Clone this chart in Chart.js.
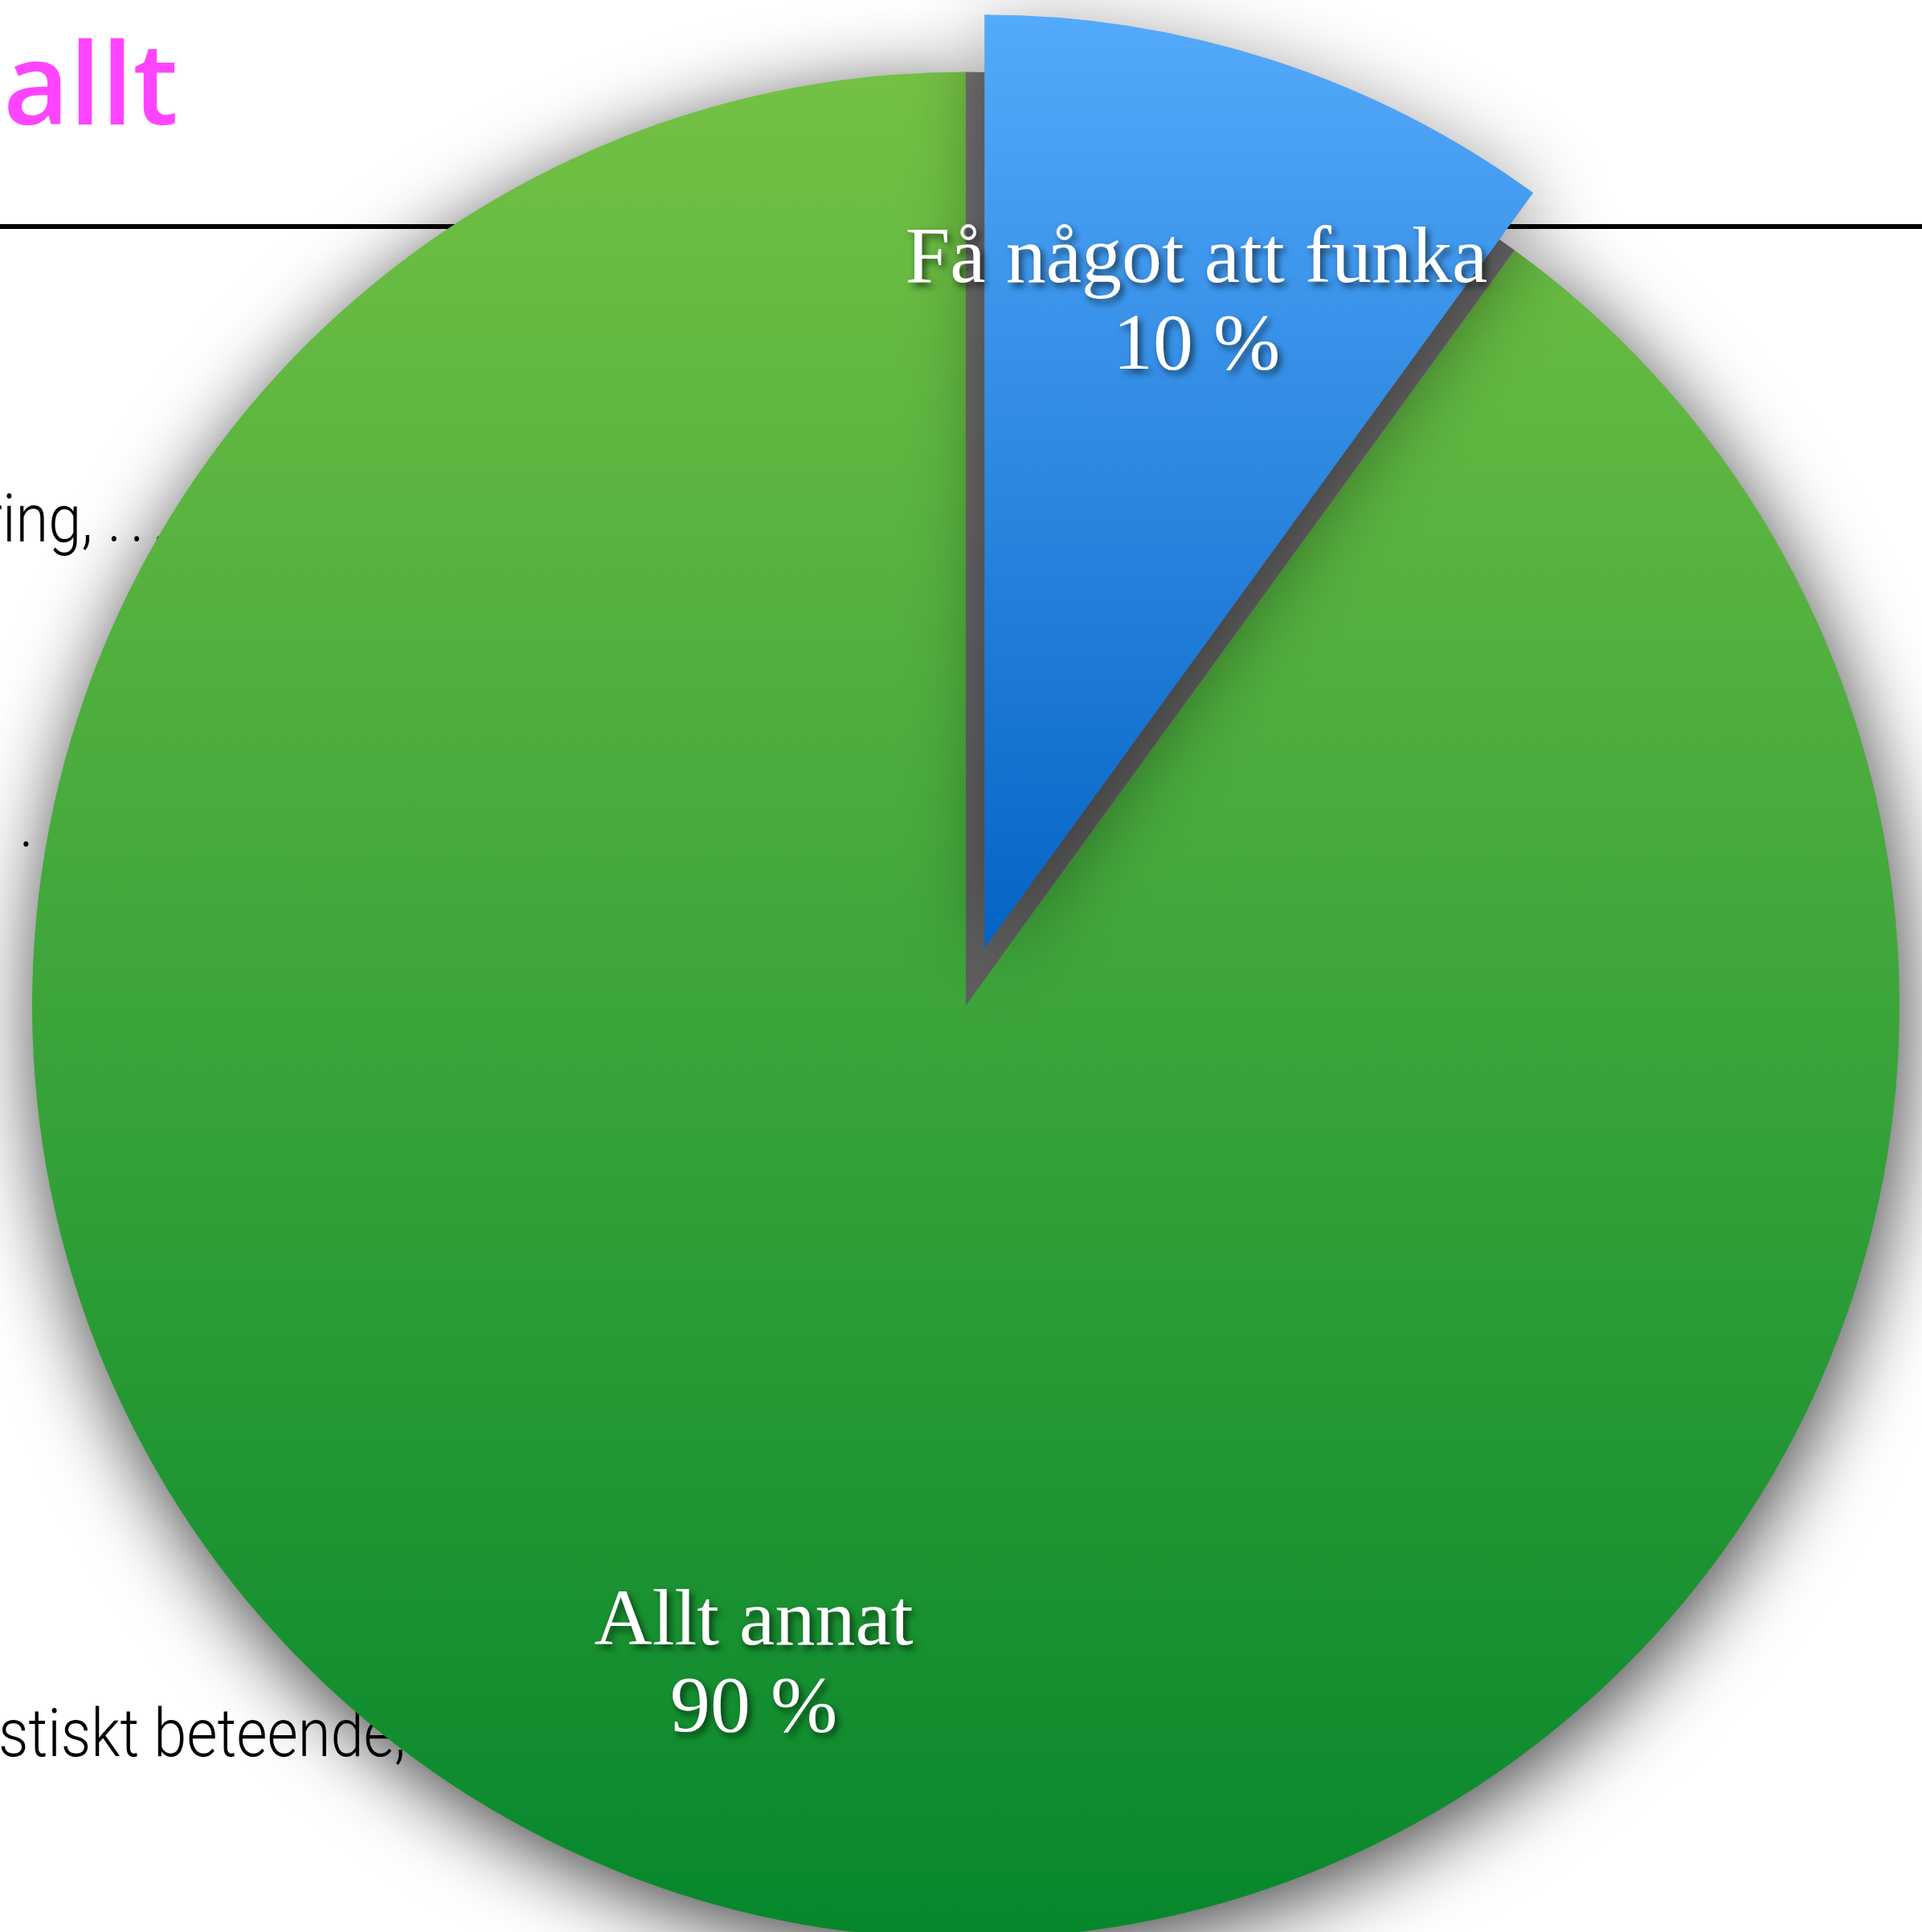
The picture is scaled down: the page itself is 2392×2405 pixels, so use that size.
<!DOCTYPE html>
<html>
<head>
<meta charset="utf-8">
<script src="https://cdn.jsdelivr.net/npm/chart.js@4.4.1/dist/chart.umd.min.js"></script>
<style>
    html, body { margin: 0; padding: 0; background: #fff; }
    #slide { position: relative; width: 2392px; height: 2405px; overflow: hidden; background: #fff; }
    .bg { position: absolute; white-space: nowrap; line-height: 1; }
    #title { left: 4px; top: 29px; font-family: "Open Sans"; font-weight: 600; font-size: 142px; color: #ff44ff; }
    #rule { position: absolute; left: 0; top: 279px; width: 2392px; height: 6px; background: #000; }
    .frag { font-family: Roboto; font-weight: 300; font-size: 84px; color: #000; transform-origin: left top; transform: scaleX(0.88); }
    .dots { letter-spacing: 12px; }
    #chart { position: absolute; left: 0; top: 0; }
</style>
</head>
<body>
<div id="slide">
    <div id="title" class="bg">allt</div>
    <div id="rule"></div>
    <div class="bg frag" style="left:-22px; top:604px;">ring, <span class="dots">...</span></div>
    <div class="bg frag" style="left:24px; top:984px;">.</div>
    <div class="bg frag" style="left:-2px; top:2116px;">stiskt beteende,</div>
    <canvas id="chart" width="2392" height="2405"></canvas>
</div>
<script>
    // slices, clockwise from 36 degrees past the top
    const labels = ['Allt annat', 'Få något att funka'];
    const shares = [90, 10];
    const rotation = 36;

    const RADIUS = 1162;
    const EXPLODE = 75;          // pulled-out slice
    const EXPLODED_INDEX = 1;

    const greenStops = [[0, 'rgb(116,193,68)'], [0.5, 'rgb(60,165,58)'], [1, 'rgb(6,135,44)']];
    const blueStops = [[0, 'rgb(84,170,252)'], [1, 'rgb(4,100,196)']];

    function sliceFill(context) {
        const chart = context.chart;
        const area = chart.chartArea;
        if (!area) return null;
        const cy = (area.top + area.bottom) / 2;
        const c = chart.ctx;
        let g, stops;
        if (context.dataIndex === EXPLODED_INDEX) {
            g = c.createLinearGradient(0, cy - RADIUS, 0, cy);
            stops = blueStops;
        } else {
            g = c.createLinearGradient(0, cy - RADIUS, 0, cy + RADIUS);
            stops = greenStops;
        }
        stops.forEach(s => g.addColorStop(s[0], s[1]));
        return g;
    }

    // grey hole left behind where the slice used to sit
    function drawHole(ctx, arc) {
        ctx.save();
        ctx.shadowColor = 'rgba(0,0,0,0)';
        const g = ctx.createLinearGradient(0, arc.y - arc.outerRadius, 0, arc.y);
        g.addColorStop(0, '#747474');
        g.addColorStop(1, '#5e5e5e');
        ctx.fillStyle = g;
        ctx.beginPath();
        ctx.moveTo(arc.x, arc.y);
        ctx.arc(arc.x, arc.y, arc.outerRadius, arc.startAngle, arc.endAngle);
        ctx.closePath();
        ctx.fill();
        ctx.restore();
    }

    const explodePlugin = {
        id: 'explode',
        afterUpdate(chart) {
            const arc = chart.getDatasetMeta(0).data[EXPLODED_INDEX];
            if (arc && !arc._exploded) {
                const orig = arc.draw;
                arc.draw = function (ctx) {
                    drawHole(ctx, this);
                    const a = (this.startAngle + this.endAngle) / 2;
                    ctx.save();
                    ctx.shadowColor = 'rgba(0,0,0,0.45)';
                    ctx.translate(Math.cos(a) * EXPLODE, Math.sin(a) * EXPLODE);
                    orig.call(this, ctx);
                    ctx.restore();
                };
                arc._exploded = true;
            }
        },
        beforeDatasetsDraw(chart) {
            const ctx = chart.ctx;
            ctx.save();
            ctx.shadowColor = 'rgba(0,0,0,0.75)';
            ctx.shadowBlur = 100;
            ctx.shadowOffsetX = 5;
            ctx.shadowOffsetY = 20;
        },
        afterDatasetsDraw(chart) {
            const ctx = chart.ctx;
            ctx.restore();
            const arcs = chart.getDatasetMeta(0).data;
            ctx.save();
            ctx.font = '100px "Liberation Serif"';
            ctx.fillStyle = '#fff';
            ctx.textAlign = 'center';
            ctx.textBaseline = 'middle';
            ctx.shadowColor = 'rgba(0,0,0,0.6)';
            ctx.shadowBlur = 8;
            ctx.shadowOffsetX = 4;
            ctx.shadowOffsetY = 5;
            arcs.forEach((arc, i) => {
                const a = (arc.startAngle + arc.endAngle) / 2;
                const push = i === EXPLODED_INDEX ? EXPLODE : 0;
                const r = arc.outerRadius * 0.735 + push;
                const x = arc.x + Math.cos(a) * r;
                const y = arc.y + Math.sin(a) * r + 11;
                ctx.fillText(labels[i], x, y - 54);
                ctx.fillText(shares[i] + ' %', x, y + 54);
            });
            ctx.restore();
        }
    };

    new Chart(document.getElementById('chart'), {
        type: 'pie',
        data: {
            labels: labels,
            datasets: [{
                data: shares,
                backgroundColor: sliceFill,
                borderWidth: 0,
                hoverOffset: 0
            }]
        },
        options: {
            responsive: false,
            animation: false,
            devicePixelRatio: 1,
            rotation: rotation,
            radius: RADIUS,
            layout: { padding: { left: 12, top: 98, right: 0, bottom: 0 } },
            events: [],
            plugins: {
                legend: { display: false },
                tooltip: { enabled: false }
            }
        },
        plugins: [explodePlugin]
    });
</script>
</body>
</html>
